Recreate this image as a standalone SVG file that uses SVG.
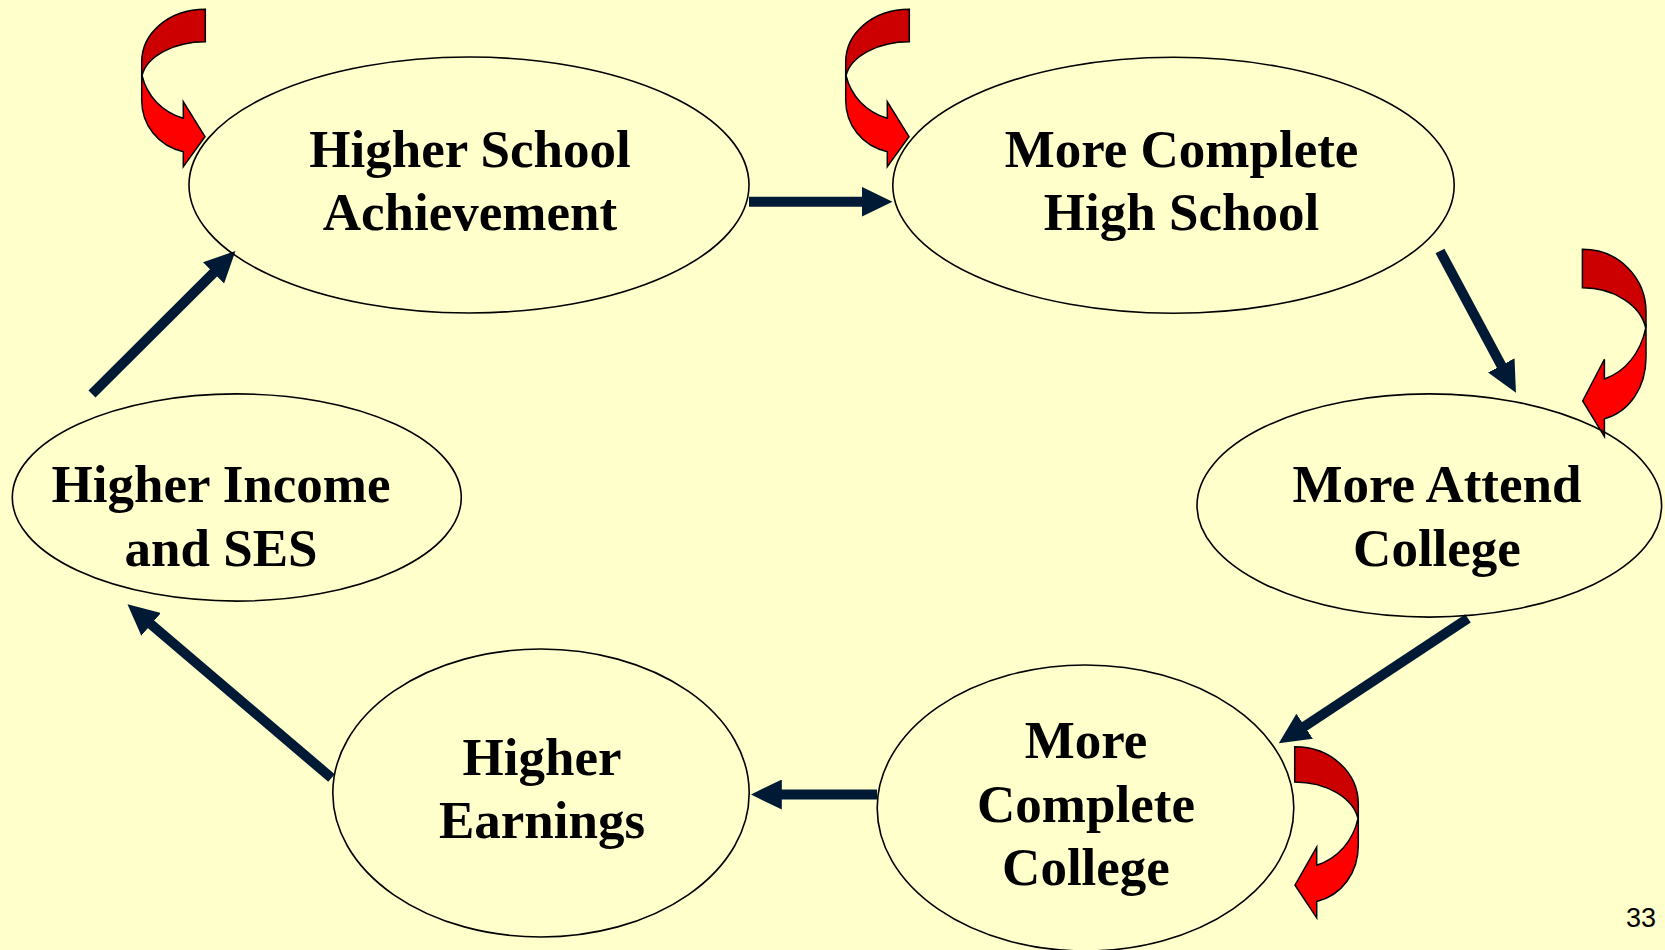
<svg xmlns="http://www.w3.org/2000/svg" xmlns:xlink="http://www.w3.org/1999/xlink" width="1665" height="950" viewBox="0 0 1665 950">
  <style>
    .node { fill: none; stroke: #000; stroke-width: 1.6; }
    .lbl { font-family: "Liberation Serif", "Times New Roman", serif; font-weight: bold; font-size: 53px; fill: #000; text-anchor: middle; }
    .conn { stroke: #001a35; stroke-width: 10; fill: none; marker-end: url(#ah); }
    .dark { fill: #cc0000; stroke: #000; stroke-width: 1.5; vector-effect: non-scaling-stroke; }
    .bright { fill: #ff0000; stroke: #000; stroke-width: 1.5; vector-effect: non-scaling-stroke; }
    .pg { font-family: "Liberation Sans", Arial, sans-serif; font-size: 27px; fill: #000; text-anchor: end; }
  </style>
  <defs>
    <marker id="ah" viewBox="0 0 31 30" markerWidth="31" markerHeight="30" refX="11" refY="15" orient="auto" markerUnits="userSpaceOnUse">
      <path d="M0,0 L31,15 L0,30 Z" fill="#001a35"/>
    </marker>
    <g id="curl">
      <path class="dark" d="M205.3,9.3 C168,9.3 141.7,34 141.7,62 L141.7,72 L142,75.5 C147,56 174,41.7 205.3,41.7 Z"/>
      <path class="bright" d="M141.7,72 L141.7,100 C141.7,125 158,146 183.3,151.7 L183.3,166.7 L205,136.7 L183.3,101.7 L183.3,118.3 C162,112 147,96 142,75.5 Z"/>
    </g>
  </defs>
  <rect width="1665" height="950" fill="#ffffcc"/>

  <g id="feedback-arrows">
    <use xlink:href="#curl" href="#curl"/>
    <use xlink:href="#curl" href="#curl" transform="translate(704,0)"/>
    <use xlink:href="#curl" href="#curl" transform="translate(1787.7,249.3) scale(-1,1.19) translate(0,-9.3)"/>
    <use xlink:href="#curl" href="#curl" transform="translate(1500,746.7) scale(-1,1.087) translate(0,-9.3)"/>
  </g>

  <g id="connectors">
    <line class="conn" x1="749" y1="201.7" x2="872.5" y2="201.7"/>
    <line class="conn" x1="1440" y1="251" x2="1506.5" y2="375.1"/>
    <line class="conn" x1="1468" y1="618.3" x2="1295.5" y2="732.3"/>
    <line class="conn" x1="877" y1="794.5" x2="770.8" y2="794.5"/>
    <line class="conn" x1="331.5" y1="778" x2="142.7" y2="617.3"/>
    <line class="conn" x1="92" y1="394" x2="221.3" y2="265.1"/>
  </g>

  <g id="node-higher-school-achievement">
    <ellipse class="node" cx="469" cy="185" rx="280" ry="128"/>
    <text class="lbl" x="470" y="167">Higher School</text>
    <text class="lbl" x="470" y="230">Achievement</text>
  </g>
  <g id="node-more-complete-high-school">
    <ellipse class="node" cx="1173.5" cy="185.3" rx="280.7" ry="128"/>
    <text class="lbl" x="1181.5" y="167">More Complete</text>
    <text class="lbl" x="1181.5" y="230">High School</text>
  </g>
  <g id="node-more-attend-college">
    <ellipse class="node" cx="1429.3" cy="505.5" rx="232.3" ry="111.6"/>
    <text class="lbl" x="1437" y="502">More Attend</text>
    <text class="lbl" x="1437" y="566">College</text>
  </g>
  <g id="node-more-complete-college">
    <ellipse class="node" cx="1085.5" cy="808" rx="208.3" ry="143"/>
    <text class="lbl" x="1086" y="758">More</text>
    <text class="lbl" x="1086" y="822">Complete</text>
    <text class="lbl" x="1086" y="885">College</text>
  </g>
  <g id="node-higher-earnings">
    <ellipse class="node" cx="541" cy="793" rx="208.2" ry="144"/>
    <text class="lbl" x="542" y="775">Higher</text>
    <text class="lbl" x="542" y="838">Earnings</text>
  </g>
  <g id="node-higher-income-ses">
    <ellipse class="node" cx="236.8" cy="497.5" rx="224.5" ry="103.6"/>
    <text class="lbl" x="221" y="502">Higher Income</text>
    <text class="lbl" x="221" y="566">and SES</text>
  </g>

  <text class="pg" x="1656" y="927.3">33</text>
</svg>
